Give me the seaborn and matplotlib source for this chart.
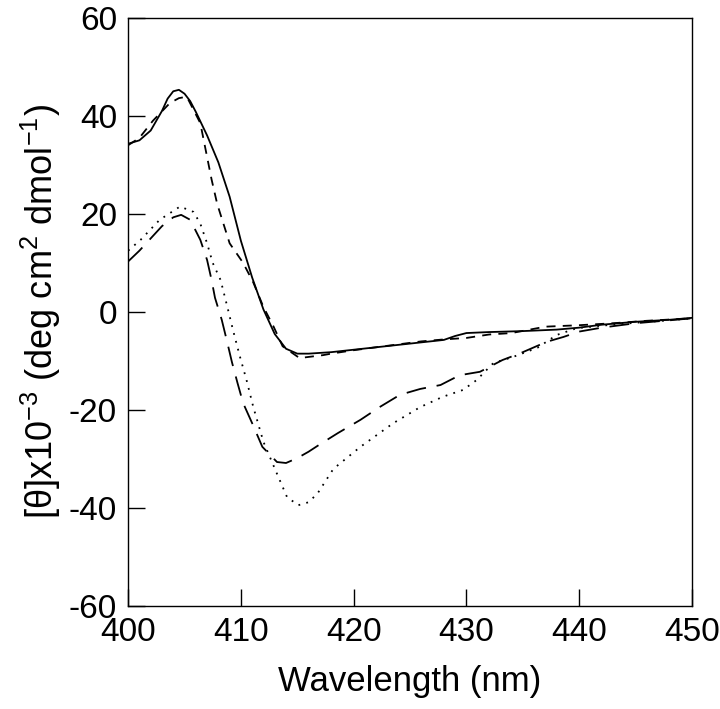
import matplotlib
matplotlib.use("Agg")
import matplotlib.pyplot as plt
import pandas as pd
import seaborn as sns

# wavelength (nm) / ellipticity values
solid_x = [400, 401, 402, 403, 403.5, 404, 404.5, 405, 405.5, 406, 407, 408, 409, 410, 411, 412, 413,
           414, 415, 416, 418, 420, 422, 424, 426, 428, 429, 430, 432, 435, 438, 440, 442, 445, 448, 450]
solid_y = [34.3, 35.0, 37.0, 41.0, 43.5, 45.0, 45.3, 44.5, 43.0, 40.8, 36.0, 30.5, 23.5, 14.5, 7.0, 0.5, -4.5,
           -7.5, -8.5, -8.5, -8.2, -7.7, -7.2, -6.7, -6.2, -5.7, -4.9, -4.3, -4.1, -3.9, -3.6, -3.2, -2.6,
           -2.0, -1.6, -1.2]

short_x = [400, 401, 402.2, 403.7, 404.5, 405.2, 406.4, 407.4, 407.9, 409, 410.2, 411.1, 412, 412.9, 413.7,
           415.2, 417.3, 418, 420, 422, 424, 426, 428, 430, 432, 434, 437, 440, 443, 446, 450]
short_y = [34, 35.5, 39, 42.6, 43.6, 43.9, 38.5, 27, 22, 14, 10, 6, 1, -3, -7,
           -9.4, -8.8, -8.5, -7.8, -7.2, -6.6, -6.0, -5.6, -5.3, -4.6, -4.3, -3.0, -2.7, -2.3, -1.8, -1.3]

long_x = [400, 401, 402, 403, 404, 404.7, 405.5, 406.4, 407, 407.4, 407.7, 408.3, 408.8, 409.2, 409.7,
          410.2, 411, 411.9, 413.2, 414, 415, 416, 417, 418.6, 420.6, 422.3, 424.1, 425.9, 427.7,
          429.4, 431.2, 433.2, 434.8, 437.1, 438.6, 440, 442, 445, 448, 450]
long_y = [10.3, 12.5, 15, 17.5, 19.3, 19.8, 18.8, 14.7, 10.6, 6.5, 2.9, -1.6, -6.3, -10.2, -14.5,
          -18.6, -22.7, -27.5, -30.6, -30.8, -29.8, -28.5, -27, -24.7, -22, -19.4, -16.9, -15.7, -14.9,
          -12.9, -12.2, -9.8, -8.4, -6.1, -5.1, -4.0, -3.2, -2.3, -1.7, -1.3]

dot_x = [400, 401.1, 402.8, 404.6, 405.8, 406.4, 407, 407.5, 408.2, 408.8, 409.3, 409.9, 410.5, 411.1,
         412, 413.2, 414.1, 415.1, 416, 416.8, 418.2, 420.6, 423.5, 425.9, 427.9, 429.7, 430.9,
         432.4, 434.1, 436.3, 438, 439.8, 442, 445, 448, 450]
dot_y = [12.5, 14.7, 18.8, 21.5, 20.4, 18, 14, 10, 6.5, 1, -3.7, -9, -13.9, -19.4,
         -26.5, -33, -37.8, -39.4, -38.8, -37, -32, -27.5, -22.7, -19.4, -17.3, -15.9, -13.9,
         -10.4, -9.2, -7.3, -4.7, -3.3, -2.8, -2.2, -1.7, -1.3]

x_ticks = [400, 410, 420, 430, 440, 450]
y_ticks = [-60, -40, -20, 0, 20, 40, 60]

sns.set_style("ticks")
plt.rcParams['font.family'] = ['Liberation Sans', 'DejaVu Sans']
plt.rcParams['mathtext.fontset'] = 'custom'
plt.rcParams['mathtext.rm'] = 'Liberation Sans'
plt.rcParams['mathtext.it'] = 'Liberation Sans'
plt.rcParams['axes.unicode_minus'] = False
plt.rcParams['text.color'] = 'black'
plt.rcParams['axes.labelcolor'] = 'black'
plt.rcParams['xtick.color'] = 'black'
plt.rcParams['ytick.color'] = 'black'

fig = plt.figure(figsize=(7.2, 7.09), dpi=100)
ax = fig.add_axes([0.178, 0.145, 0.783, 0.830])

series = [
    (solid_x, solid_y, "-"),
    (short_x, short_y, (0, (5, 4))),
    (long_x, long_y, (0, (11, 6))),
    (dot_x, dot_y, (0, (1, 3.5))),
]
for xs, ys, ls in series:
    df = pd.DataFrame({"wl": xs, "theta": ys})
    sns.lineplot(data=df, x="wl", y="theta", ax=ax, color="black",
                 linewidth=1.3, linestyle=ls, sort=False)

ax.set_xlim(400, 450)
ax.set_ylim(-60, 60)
ax.set_xticks(x_ticks)
ax.set_yticks(y_ticks)
ax.tick_params(direction="in", length=12, width=1, labelsize=24, pad=8,
               top=False, right=False)
for s in ax.spines.values():
    s.set_linewidth(1)
    s.set_color("black")
ax.set_xlabel("Wavelength (nm)", fontsize=25, labelpad=12)
ax.set_ylabel(r"[θ]x10$^{-3}$ (deg cm$^{2}$ dmol$^{-1}$)", fontsize=26, labelpad=4)

fig.savefig("out.png", dpi=100)
